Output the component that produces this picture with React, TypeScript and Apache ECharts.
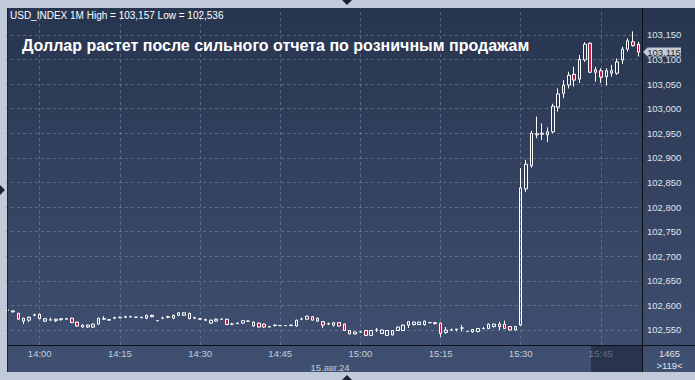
import React, { useEffect, useRef } from 'react';
import * as echarts from 'echarts';

// ---- data ----
const startMinute = 13 * 60 + 54;
const times: string[] = Array.from({ length: 119 }, (_, i) => {
  const m = startMinute + i;
  return `${Math.floor(m / 60)}:${String(m % 60).padStart(2, '0')}`;
});
const timeTicks = ['14:00', '14:15', '14:30', '14:45', '15:00', '15:15', '15:30', '15:45'];
const priceTicks = [102.55, 102.6, 102.65, 102.7, 102.75, 102.8, 102.85, 102.9, 102.95, 103.0, 103.05, 103.1, 103.15];
const yMin = 102.5195;
const yMax = 103.2036;
const headerText = 'USD_INDEX 1M High = 103,157 Low = 102,536';
const titleText = 'Доллар растет после сильного отчета по розничным продажам';
const dateText = '15.авг.24';
const barCountText = '1465';
const visibleText = '>119<';

// [open, close, low, high]
const ohlc: number[][] = [
  [102.590, 102.591, 102.589, 102.592],
  [102.587, 102.589, 102.585, 102.589],
  [102.584, 102.572, 102.571, 102.585],
  [102.568, 102.574, 102.562, 102.575],
  [102.570, 102.576, 102.566, 102.577],
  [102.580, 102.581, 102.578, 102.583],
  [102.582, 102.573, 102.572, 102.583],
  [102.568, 102.573, 102.566, 102.574],
  [102.570, 102.571, 102.570, 102.575],
  [102.569, 102.572, 102.566, 102.573],
  [102.571, 102.573, 102.569, 102.573],
  [102.572, 102.573, 102.571, 102.574],
  [102.574, 102.565, 102.564, 102.575],
  [102.566, 102.558, 102.557, 102.567],
  [102.556, 102.560, 102.555, 102.561],
  [102.556, 102.560, 102.554, 102.561],
  [102.556, 102.562, 102.554, 102.563],
  [102.562, 102.574, 102.561, 102.575],
  [102.572, 102.573, 102.571, 102.578],
  [102.570, 102.571, 102.569, 102.572],
  [102.574, 102.575, 102.572, 102.577],
  [102.575, 102.576, 102.574, 102.577],
  [102.576, 102.577, 102.574, 102.579],
  [102.577, 102.577, 102.575, 102.579],
  [102.576, 102.576, 102.575, 102.577],
  [102.576, 102.575, 102.574, 102.577],
  [102.574, 102.580, 102.572, 102.581],
  [102.580, 102.577, 102.576, 102.581],
  [102.569, 102.569, 102.568, 102.570],
  [102.574, 102.574, 102.572, 102.577],
  [102.576, 102.577, 102.574, 102.579],
  [102.574, 102.580, 102.572, 102.581],
  [102.580, 102.585, 102.578, 102.586],
  [102.580, 102.585, 102.579, 102.586],
  [102.584, 102.573, 102.572, 102.585],
  [102.574, 102.575, 102.572, 102.577],
  [102.573, 102.572, 102.571, 102.574],
  [102.570, 102.571, 102.568, 102.573],
  [102.564, 102.570, 102.563, 102.571],
  [102.568, 102.572, 102.567, 102.573],
  [102.572, 102.572, 102.571, 102.573],
  [102.572, 102.561, 102.560, 102.573],
  [102.562, 102.562, 102.560, 102.564],
  [102.563, 102.564, 102.562, 102.565],
  [102.564, 102.569, 102.563, 102.570],
  [102.568, 102.568, 102.567, 102.569],
  [102.566, 102.558, 102.557, 102.567],
  [102.564, 102.556, 102.555, 102.565],
  [102.562, 102.556, 102.555, 102.563],
  [102.557, 102.556, 102.555, 102.558],
  [102.559, 102.560, 102.557, 102.562],
  [102.559, 102.559, 102.558, 102.560],
  [102.559, 102.559, 102.558, 102.560],
  [102.559, 102.560, 102.558, 102.561],
  [102.558, 102.570, 102.557, 102.571],
  [102.572, 102.572, 102.570, 102.575],
  [102.572, 102.578, 102.571, 102.579],
  [102.577, 102.570, 102.569, 102.578],
  [102.568, 102.574, 102.567, 102.575],
  [102.567, 102.560, 102.554, 102.568],
  [102.562, 102.563, 102.560, 102.565],
  [102.560, 102.565, 102.557, 102.566],
  [102.565, 102.558, 102.557, 102.566],
  [102.562, 102.549, 102.548, 102.563],
  [102.549, 102.542, 102.541, 102.550],
  [102.542, 102.546, 102.541, 102.547],
  [102.546, 102.546, 102.545, 102.547],
  [102.549, 102.539, 102.538, 102.550],
  [102.539, 102.549, 102.538, 102.550],
  [102.550, 102.550, 102.546, 102.554],
  [102.543, 102.550, 102.542, 102.551],
  [102.539, 102.549, 102.538, 102.550],
  [102.540, 102.549, 102.539, 102.550],
  [102.549, 102.556, 102.548, 102.557],
  [102.549, 102.560, 102.548, 102.561],
  [102.560, 102.567, 102.554, 102.568],
  [102.561, 102.566, 102.559, 102.567],
  [102.561, 102.566, 102.560, 102.567],
  [102.561, 102.568, 102.559, 102.569],
  [102.565, 102.565, 102.564, 102.566],
  [102.565, 102.563, 102.561, 102.566],
  [102.564, 102.543, 102.536, 102.565],
  [102.545, 102.550, 102.542, 102.556],
  [102.550, 102.550, 102.548, 102.553],
  [102.551, 102.552, 102.547, 102.552],
  [102.554, 102.554, 102.547, 102.560],
  [102.547, 102.547, 102.546, 102.548],
  [102.546, 102.551, 102.544, 102.552],
  [102.547, 102.553, 102.545, 102.554],
  [102.553, 102.553, 102.551, 102.556],
  [102.553, 102.562, 102.552, 102.563],
  [102.557, 102.562, 102.555, 102.563],
  [102.557, 102.562, 102.550, 102.567],
  [102.562, 102.553, 102.552, 102.569],
  [102.557, 102.550, 102.549, 102.558],
  [102.550, 102.557, 102.549, 102.558],
  [102.560, 102.839, 102.558, 102.879],
  [102.837, 102.887, 102.831, 102.896],
  [102.884, 102.950, 102.880, 102.955],
  [102.947, 102.949, 102.940, 102.984],
  [102.950, 102.948, 102.936, 102.970],
  [102.947, 102.953, 102.932, 102.962],
  [102.953, 103.005, 102.950, 103.010],
  [103.003, 103.030, 102.994, 103.041],
  [103.031, 103.048, 103.021, 103.058],
  [103.048, 103.068, 103.041, 103.075],
  [103.070, 103.058, 103.045, 103.085],
  [103.060, 103.100, 103.052, 103.109],
  [103.099, 103.131, 103.095, 103.135],
  [103.133, 103.074, 103.072, 103.135],
  [103.074, 103.079, 103.055, 103.085],
  [103.077, 103.064, 103.052, 103.082],
  [103.065, 103.077, 103.047, 103.082],
  [103.077, 103.072, 103.065, 103.089],
  [103.072, 103.095, 103.069, 103.102],
  [103.099, 103.121, 103.091, 103.126],
  [103.121, 103.138, 103.116, 103.143],
  [103.136, 103.128, 103.126, 103.157],
  [103.131, 103.115, 103.106, 103.136],
];

const FONT = '"Liberation Sans", Arial, sans-serif';
const fmt = (v: number) => v.toFixed(3).replace('.', ',');

function txt(text: string, x: number, y: number, size: number, fill: string, align = 'left', weight = 'normal', z = 100) {
  return {
    type: 'text',
    z,
    silent: true,
    style: {
      text, x, y, fill,
      font: `${weight} ${size}px ${FONT}`,
      textAlign: align, align,
      textVerticalAlign: 'middle', verticalAlign: 'middle',
    },
  };
}

export default function App() {
  const ref = useRef<HTMLDivElement>(null);
  useEffect(() => {
    const chart = echarts.init(ref.current!, null, { renderer: 'svg' });
    chart.setOption({
      animation: false,
      backgroundColor: 'transparent',
      grid: { left: 5, right: 54, top: 8.5, bottom: 35, containLabel: false },
      xAxis: {
        type: 'category',
        data: times,
        boundaryGap: true,
        axisLine: { show: false },
        axisTick: { show: false },
        splitLine: { show: false },
        axisLabel: {
          interval: (_i: number, v: string) => timeTicks.includes(v),
          color: '#c3cbd8',
          fontSize: 9.5,
          fontFamily: FONT,
          margin: 3,
        },
      },
      yAxis: {
        type: 'value',
        position: 'right',
        min: yMin,
        max: yMax,
        splitNumber: 14,
        scale: true,
        axisLine: { show: false },
        axisTick: { show: false },
        splitLine: { show: false },
        axisLabel: {
          color: '#dfe5ee',
          fontSize: 9.5,
          fontFamily: FONT,
          margin: 6,
          showMinLabel: false,
          showMaxLabel: false,
          formatter: (v: number) => (priceTicks.some((t) => Math.abs(t - v) < 1e-6) ? fmt(v) : ''),
        },
      },
      series: [
        {
          type: 'candlestick',
          data: ohlc,
          barWidth: 3,
          z: 3,
          itemStyle: {
            color: 'rgba(0,0,0,0)',
            color0: '#c8174a',
            borderColor: '#ffffff',
            borderColor0: '#ffffff',
            borderWidth: 1,
          },
          markLine: {
            silent: true,
            z: 1,
            symbol: ['none', 'none'],
            label: { show: false },
            lineStyle: { type: [3, 3], color: 'rgba(130,147,180,0.5)', width: 1 },
            data: [
              ...priceTicks.map((v) => ({ yAxis: v })),
              ...timeTicks.map((t) => ({ xAxis: t })),
            ],
          },
        },
      ],
    });

    const lastClose = ohlc[ohlc.length - 1][1];
    const py = chart.convertToPixel({ yAxisIndex: 0 }, lastClose) as number;

    chart.setOption({
      graphic: [
        {
          type: 'rect', z: -10, silent: true,
          shape: { x: 8, y: 8, width: 687, height: 364 },
          style: {
            fill: new echarts.graphic.LinearGradient(0, 0, 0, 1, [
              { offset: 0, color: '#28354f' },
              { offset: 1, color: '#405071' },
            ]),
          },
        },
        { type: 'rect', z: 100, silent: true, shape: { x: 591, y: 346, width: 51, height: 26 }, style: { fill: 'rgba(22,30,50,0.55)' } },
        { type: 'line', z: 100, silent: true, shape: { x1: 642.5, y1: 8, x2: 642.5, y2: 372 }, style: { stroke: '#0b1019', lineWidth: 1 } },
        { type: 'line', z: 100, silent: true, shape: { x1: 8, y1: 345.5, x2: 695, y2: 345.5 }, style: { stroke: '#0b1019', lineWidth: 1 } },
        { type: 'line', z: 100, silent: true, shape: { x1: 7.5, y1: 8, x2: 7.5, y2: 372 }, style: { stroke: '#1c2436', lineWidth: 1 } },
        {
          type: 'polygon', z: 100, silent: true,
          shape: { points: [[643, py], [647.5, py - 4.5], [681, py - 4.5], [681, py + 4.5], [647.5, py + 4.5]] },
          style: { fill: '#c5cad3' },
        },
        txt(fmt(lastClose), 664, py + 0.5, 9.5, '#1b2538', 'center', 'normal', 101),
        txt(headerText, 10, 15, 10, '#ffffff'),
        txt(titleText, 22, 45, 16, '#ffffff', 'left', 'bold'),
        txt(dateText, 330, 367, 9.5, '#c3cbd8', 'center'),
        txt(barCountText, 669.5, 353, 9.5, '#dfe5ee', 'center'),
        txt(visibleText, 669.5, 365.5, 9.5, '#dfe5ee', 'center'),
        { type: 'polygon', z: 100, silent: true, shape: { points: [[342, 0], [352, 0], [347, 5]] }, style: { fill: '#1a2233' } },
        { type: 'polygon', z: 100, silent: true, shape: { points: [[342, 380], [352, 380], [347, 375]] }, style: { fill: '#1a2233' } },
        { type: 'polygon', z: 100, silent: true, shape: { points: [[0, 185], [0, 195], [5, 190]] }, style: { fill: '#1a2233' } },
      ],
    });

    return () => chart.dispose();
  }, []);

  return (
    <div
      ref={ref}
      style={{ position: 'fixed', left: 0, top: 0, width: 695, height: 380, background: '#c0cad8' }}
    />
  );
}
